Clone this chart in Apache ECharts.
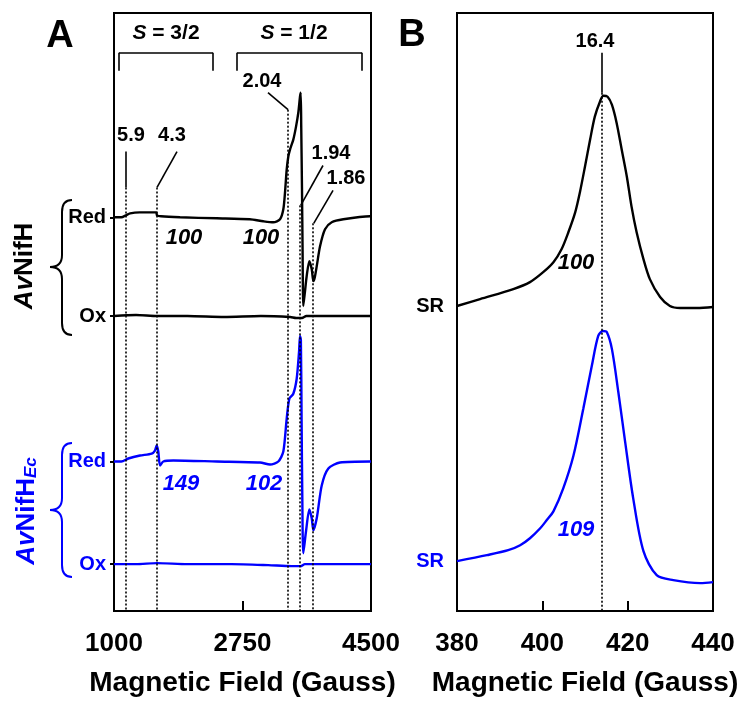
<!DOCTYPE html>
<html><head><meta charset="utf-8">
<script src="https://cdn.jsdelivr.net/npm/echarts@6/dist/echarts.min.js"></script>
<style>html,body{margin:0;padding:0;background:#fff}#c{width:743px;height:702px}</style>
</head><body><div id="c"></div>
<script>
// ---------- DATA ----------
// Panel A: X-band EPR spectra (field in Gauss, signal relative to its own baseline)
const avRedField   = [1000,1100,1163,1220,1350,1500,1575,1586,1640,1900,2400,2850,3033,3170,3261,3306,3329,3352,3374,3397,3442,3479,3510,3533,3543,3550,3560,3568,3578,3600,3624,3660,3693,3715,3735,3761,3806,3874,3965,4123,4487,4500];
const avRedSignal  = [0,0,2,4,5,5,5,2,1,0,-1,-2,-4,-5,-2,8,25,48,61,68,78,91,105,121,125,90,30,-30,-89,-75,-59,-44,-52,-64,-60,-49,-29,-12,-5,-2,1,1];
const avOxField    = [1000,1300,1586,2000,2500,3000,3400,3480,3560,3620,4000,4500];
const avOxSignal   = [0,1,0,0,-1,0,-1,-2,-2,0,0,0];
const ecRedField   = [1000,1100,1195,1354,1513,1558,1581,1603,1627,1671,1808,2399,2989,3125,3238,3306,3352,3388,3442,3488,3520,3533,3545,3555,3565,3578,3615,3660,3693,3715,3761,3829,3919,4078,4487,4500];
const ecRedSignal  = [0,0,3,6,8,11,16,10,-4,0,1,0,-1,-3,0,10,43,63,68,83,110,126,122,40,-40,-92,-70,-48,-57,-69,-57,-24,-7,-1,0,0];
const ecOxField    = [1000,1300,1586,2000,2600,3100,3420,3540,3600,4000,4500];
const ecOxSignal   = [0,0,1,0,0,-1,-2,-2,0,0,0];
const traceNamesA  = ['Red', 'Ox', 'Red', 'Ox'];
const gValues      = ['5.9', '4.3', '2.04', '1.94', '1.86'];
const gFields      = [1163, 1586, 3370, 3533, 3710];
const intensA      = ['100', '100', '149', '102'];
const xTicksA      = [1000, 2750, 4500];

// Panel B: parallel-mode signal (field in Gauss)
const srAvField    = [380,385.4,393.2,397.1,400.2,402.6,404.5,406.1,407.7,408.8,410.0,411.2,412.3,413.5,414.3,415.3,416.3,417.4,418.6,419.8,420.9,422.1,423.7,425.2,427.6,429.9,432.3,436.2,440];
const srAvSignal   = [306,313,323,330,340,350,363,380,400,420,446,473,496,511,517,516,508,490,463,436,406,380,353,333,315,306,304,304,305];
const srEcField    = [380,387.0,392.0,394.8,397.1,399.5,401.0,402.6,404.9,407.3,409.6,411.6,413.1,414.2,415.1,416.3,417.8,419.4,421.3,423.7,426.8,430.7,437.0,440];
const srEcSignal   = [50,56,61,66,73,83,91,100,123,156,203,246,276,281,280,263,220,170,113,60,36,31,28,29];
const gB           = '16.4';
const gFieldB      = 414.0;
const intensB      = ['100', '109'];
const xTicksB      = [380, 400, 420, 440];

// ---------- STYLE / LAYOUT ----------
const BLUE = '#0000ff';
const FF = '"Liberation Sans", Arial, sans-serif';
const baseA = [395, 296, 150, 47];     // vertical stacking of the four traces in panel A
const colA  = ['#000', '#000', BLUE, BLUE];
const LW = 2.4;

function pairs(xs, ys, off) { return xs.map((x, i) => [x, ys[i] + off]); }

const dotted = {color: '#000', width: 1.6, type: [2, 2]};
const solid  = {color: '#000', width: 1.6, type: 'solid'};
function seg(x1, y1, x2, y2, ls) { return [{coord: [x1, y1], lineStyle: ls}, {coord: [x2, y2]}]; }

const annA = [
  seg(gFields[0], 461, gFields[0], 425, solid), seg(gFields[0], 425, gFields[0], 0, dotted),
  seg(1858, 461, gFields[1], 425, solid),       seg(gFields[1], 425, gFields[1], 0, dotted),
  seg(3097, 520, gFields[2], 503, solid),       seg(gFields[2], 503, gFields[2], 0, dotted),
  seg(3846, 447, gFields[3] + 10, 407, solid),  seg(gFields[3], 407, gFields[3], 0, dotted),
  seg(3983, 422, gFields[4] + 10, 389, solid),  seg(gFields[4], 389, gFields[4], 0, dotted),
  seg(1068, 542, 1068, 560, solid), seg(1068, 560, 2348, 560, solid), seg(2348, 560, 2348, 542, solid),
  seg(2675, 542, 2675, 560, solid), seg(2675, 560, 4378, 560, solid), seg(4378, 560, 4378, 542, solid)
];
const annB = [
  seg(gFieldB, 560, gFieldB, 520, solid),
  seg(gFieldB, 520, gFieldB, 0, dotted)
];

const chart = echarts.init(document.getElementById('c'), null, {renderer: 'canvas'});

function txt(x, y, text, size, color, italic) {
  return {
    type: 'text', x: x, y: y, z: 100,
    style: {text: text, fill: color, font: (italic ? 'italic ' : '') + 'bold ' + size + 'px ' + FF,
            textAlign: 'center', textVerticalAlign: 'middle'}
  };
}
function richTxt(x, y, text, size, color, rot, rich) {
  return {type: 'text', x: x, y: y, rotation: rot || 0, z: 100,
    style: {text: text, fill: color, font: 'bold ' + size + 'px ' + FF,
      textAlign: 'center', textVerticalAlign: 'middle', rich: rich}};
}
function brace(top, mid, bot, color) {
  const xl = 50, xv = 62, xr = 72, r = 12;
  const st = {stroke: color, lineWidth: 2, fill: null};
  return [
    {type: 'bezierCurve', z: 100, shape: {x1: xr, y1: top, cpx1: xv, cpy1: top, x2: xv, y2: top + r}, style: st},
    {type: 'line', z: 100, shape: {x1: xv, y1: top + r, x2: xv, y2: mid - r}, style: st},
    {type: 'bezierCurve', z: 100, shape: {x1: xv, y1: mid - r, cpx1: xv, cpy1: mid, x2: xl, y2: mid}, style: st},
    {type: 'bezierCurve', z: 100, shape: {x1: xl, y1: mid, cpx1: xv, cpy1: mid, x2: xv, y2: mid + r}, style: st},
    {type: 'line', z: 100, shape: {x1: xv, y1: mid + r, x2: xv, y2: bot - r}, style: st},
    {type: 'bezierCurve', z: 100, shape: {x1: xv, y1: bot - r, cpx1: xv, cpy1: bot, x2: xr, y2: bot}, style: st}
  ];
}

const xAxisCommon = {
  type: 'value',
  axisLine: {show: false},
  splitLine: {show: false},
  axisTick: {show: true, inside: true, length: 10, lineStyle: {color: '#000', width: 2}},
  axisLabel: {color: '#000', fontSize: 26, fontWeight: 'bold', fontFamily: FF, margin: 20,
              showMinLabel: true, showMaxLabel: true, formatter: v => String(v)},
  name: 'Magnetic Field (Gauss)', nameLocation: 'middle', nameGap: 58,
  nameTextStyle: {color: '#000', fontSize: 28, fontWeight: 'bold', fontFamily: FF}
};

const option = {
  animation: false,
  backgroundColor: '#fff',
  grid: [
    {left: 114, top: 13, width: 257, height: 600, show: true, borderColor: '#000', borderWidth: 2, backgroundColor: 'transparent'},
    {left: 457, top: 13, width: 256, height: 600, show: true, borderColor: '#000', borderWidth: 2, backgroundColor: 'transparent'}
  ],
  xAxis: [
    Object.assign({}, xAxisCommon, {gridIndex: 0, min: xTicksA[0], max: xTicksA[xTicksA.length - 1], interval: xTicksA[1] - xTicksA[0]}),
    Object.assign({}, xAxisCommon, {gridIndex: 1, min: xTicksB[0], max: xTicksB[xTicksB.length - 1], interval: xTicksB[1] - xTicksB[0]})
  ],
  yAxis: [
    {gridIndex: 0, type: 'value', min: 0, max: 600, axisLine: {show: false}, splitLine: {show: false},
     axisTick: {show: true, customValues: baseA, length: 4, lineStyle: {color: '#000', width: 2}},
     axisLabel: {show: true, customValues: baseA, margin: 8, fontSize: 20, fontWeight: 'bold', fontFamily: FF,
       formatter: v => traceNamesA[baseA.indexOf(v)] || '',
       color: v => (v > 250 ? '#000' : BLUE)}},
    {gridIndex: 1, type: 'value', min: 0, max: 600, axisLine: {show: false}, splitLine: {show: false},
     axisTick: {show: false},
     axisLabel: {show: true, customValues: [srAvSignal[0], srEcSignal[0]], margin: 13, fontSize: 20, fontWeight: 'bold', fontFamily: FF,
       formatter: v => 'SR',
       color: v => (v > 250 ? '#000' : BLUE)}}
  ],
  series: [
    {type: 'line', xAxisIndex: 0, yAxisIndex: 0, data: [], silent: true,
     markLine: {silent: true, symbol: 'none', label: {show: false}, animation: false, data: annA}},
    {type: 'line', xAxisIndex: 1, yAxisIndex: 1, data: [], silent: true,
     markLine: {silent: true, symbol: 'none', label: {show: false}, animation: false, data: annB}},
    {name: 'AvNifH Red', type: 'line', xAxisIndex: 0, yAxisIndex: 0, showSymbol: false, symbol: 'none', smooth: 0.25,
     data: pairs(avRedField, avRedSignal, baseA[0]), lineStyle: {color: colA[0], width: LW}},
    {name: 'AvNifH Ox', type: 'line', xAxisIndex: 0, yAxisIndex: 0, showSymbol: false, symbol: 'none', smooth: 0.25,
     data: pairs(avOxField, avOxSignal, baseA[1]), lineStyle: {color: colA[1], width: LW}},
    {name: 'AvNifHEc Red', type: 'line', xAxisIndex: 0, yAxisIndex: 0, showSymbol: false, symbol: 'none', smooth: 0.25,
     data: pairs(ecRedField, ecRedSignal, baseA[2]), lineStyle: {color: colA[2], width: LW}},
    {name: 'AvNifHEc Ox', type: 'line', xAxisIndex: 0, yAxisIndex: 0, showSymbol: false, symbol: 'none', smooth: 0.25,
     data: pairs(ecOxField, ecOxSignal, baseA[3]), lineStyle: {color: colA[3], width: LW}},
    {name: 'AvNifH SR', type: 'line', xAxisIndex: 1, yAxisIndex: 1, showSymbol: false, symbol: 'none', smooth: 0.3,
     data: pairs(srAvField, srAvSignal, 0), lineStyle: {color: '#000', width: LW}},
    {name: 'AvNifHEc SR', type: 'line', xAxisIndex: 1, yAxisIndex: 1, showSymbol: false, symbol: 'none', smooth: 0.3,
     data: pairs(srEcField, srEcSignal, 0), lineStyle: {color: BLUE, width: LW}}
  ],
  graphic: [
    txt(60, 37, 'A', 38, '#000', false),
    txt(412, 36, 'B', 38, '#000', false),
    richTxt(166, 33, '{i|S} = 3/2', 21, '#000', 0, {i: {fontStyle: 'italic', fontWeight: 'bold', fontSize: 21, fontFamily: FF, color: '#000'}}),
    richTxt(294, 33, '{i|S} = 1/2', 21, '#000', 0, {i: {fontStyle: 'italic', fontWeight: 'bold', fontSize: 21, fontFamily: FF, color: '#000'}}),
    txt(131, 135, gValues[0], 20, '#000', false),
    txt(172, 135, gValues[1], 20, '#000', false),
    txt(262, 81, gValues[2], 20, '#000', false),
    txt(331, 153, gValues[3], 20, '#000', false),
    txt(346, 178, gValues[4], 20, '#000', false),
    txt(184, 238, intensA[0], 22, '#000', true),
    txt(261, 238, intensA[1], 22, '#000', true),
    txt(181, 484, intensA[2], 22, BLUE, true),
    txt(264, 484, intensA[3], 22, BLUE, true),
    txt(595, 41, gB, 20, '#000', false),
    txt(576, 263, intensB[0], 22, '#000', true),
    txt(576, 530, intensB[1], 22, BLUE, true),
    ...brace(200, 267, 335, '#000'),
    ...brace(443, 510, 577, BLUE),
    richTxt(25, 266, '{i|Av}NifH', 26, '#000', Math.PI / 2,
      {i: {fontStyle: 'italic', fontWeight: 'bold', fontSize: 26, fontFamily: FF, color: '#000'}}),
    richTxt(27, 511, '{i|Av}NifH{s|Ec}', 26, BLUE, Math.PI / 2,
      {i: {fontStyle: 'italic', fontWeight: 'bold', fontSize: 26, fontFamily: FF, color: BLUE},
       s: {fontStyle: 'italic', fontWeight: 'bold', fontSize: 17, fontFamily: FF, color: BLUE, verticalAlign: 'bottom'}})
  ]
};
chart.setOption(option);
</script>
</body></html>
